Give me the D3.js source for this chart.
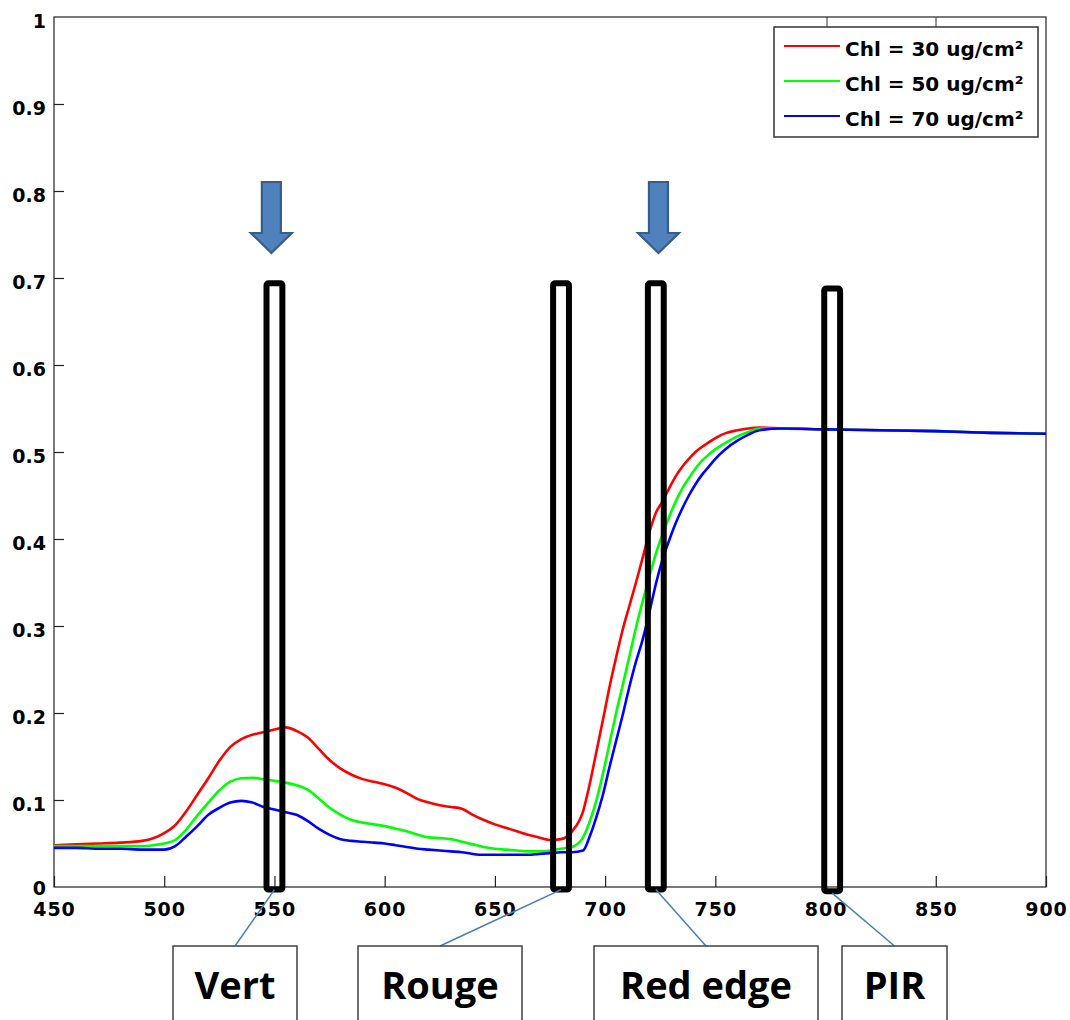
<!DOCTYPE html>
<html><head><meta charset="utf-8">
<script src="https://cdn.jsdelivr.net/npm/d3@7"></script>
<style>
html,body{margin:0;padding:0;background:#fff;}
svg{display:block;}
</style></head>
<body>
<svg id="c" width="1070" height="1020"></svg>
<script>
// ---------- DATA ----------
const wavelengths = [450,460,470,480,490,495,500,505,510,515,520,525,530,535,540,545,550,555,560,565,570,575,580,585,590,595,600,605,610,615,620,625,630,635,640,645,650,655,660,665,670,675,680,685,690,693,696,699,702,705,708,711,714,717,720,723,726,729,732,735,738,741,744,747,750,755,760,765,770,780,800,825,850,875,900];
const refl30 = [.048,.049,.050,.051,.053,.056,.062,.071,.087,.106,.125,.145,.161,.170,.175,.178,.181,.1835,.1795,.172,.159,.146,.136,.129,.124,.121,.118,.114,.108,.101,.097,.094,.092,.090,.083,.077,.072,.068,.064,.060,.057,.054,.055,.064,.087,.118,.155,.192,.230,.264,.296,.323,.350,.378,.407,.430,.443,.458,.472,.483,.492,.500,.506,.511,.516,.522,.525,.527,.528,.527,.526,.525,.524,.522,.521];
const refl50 = [.047,.047,.047,.047,.047,.048,.050,.054,.066,.082,.097,.111,.121,.125,.1255,.124,.122,.120,.117,.112,.102,.091,.083,.077,.074,.072,.070,.067,.064,.060,.057,.0562,.055,.052,.049,.046,.044,.043,.042,.041,.041,.042,.044,.046,.057,.075,.099,.130,.165,.200,.232,.265,.298,.328,.356,.383,.405,.425,.443,.458,.470,.481,.490,.497,.503,.511,.518,.523,.527,.527,.526,.525,.524,.522,.521];
const refl70 = [.045,.045,.044,.044,.043,.043,.043,.047,.058,.070,.083,.091,.097,.099,.097,.092,.089,.086,.083,.076,.067,.060,.055,.053,.052,.051,.050,.048,.046,.044,.043,.042,.041,.040,.038,.037,.037,.037,.037,.037,.038,.039,.040,.040,.042,.058,.080,.106,.138,.168,.198,.230,.259,.284,.315,.348,.376,.398,.418,.435,.450,.463,.474,.483,.492,.504,.513,.520,.525,.527,.526,.525,.524,.522,.521];
const seriesNames = ["Chl = 30 ug/cm\u00B2","Chl = 50 ug/cm\u00B2","Chl = 70 ug/cm\u00B2"];
const seriesColors = ["#ff0000","#00ff00","#0000ff"];
const xTicks = [450,500,550,600,650,700,750,800,850,900];
const yTicks = [0,0.1,0.2,0.3,0.4,0.5,0.6,0.7,0.8,0.9,1];
const yTickLabels = ["0","0.1","0.2","0.3","0.4","0.5","0.6","0.7","0.8","0.9","1"];
const bandNames = ["Vert","Rouge","Red edge","PIR"];
const bandCenters = [550,680,723,803];
const bandTops = [0.694,0.694,0.694,0.688];
const bandWidthNm = 7.2;
const arrowWavelengths = [548.6,724.2];

// ---------- LAYOUT ----------
const svg = d3.select("#c");
const L = 54, R = 1046, T = 17, B = 887;
const x = d3.scaleLinear().domain([450,900]).range([L,R]);
const y = d3.scaleLinear().domain([0,1]).range([B,T]);
const tickFont = "'DejaVu Sans', sans-serif";

// frame
svg.append("rect").attr("x",L).attr("y",T).attr("width",R-L).attr("height",B-T)
  .attr("fill","none").attr("stroke","#222").attr("stroke-width",1.2);

// axes (ticks inward)
const xAxis = d3.axisBottom(x).tickValues(xTicks).tickSizeInner(-11).tickSizeOuter(0).tickPadding(16).tickFormat(d3.format("d"));
const gx = svg.append("g").attr("transform",`translate(0,${B})`).call(xAxis);
gx.select(".domain").remove();
gx.selectAll(".tick line").attr("stroke","#222").attr("stroke-width",1.2);
gx.selectAll(".tick text").attr("font-family",tickFont).attr("font-weight","bold").attr("font-size",19)
  .attr("letter-spacing","1px").attr("fill","#000").attr("y",29).attr("dy",0);

const yAxis = d3.axisLeft(y).tickValues(yTicks).tickSizeInner(-10).tickSizeOuter(0).tickPadding(8)
  .tickFormat((d,i)=>yTickLabels[i]);
const gy = svg.append("g").attr("transform",`translate(${L},0)`).call(yAxis);
gy.select(".domain").remove();
gy.selectAll(".tick line").attr("stroke","#222").attr("stroke-width",1.2)
  .attr("display",d=>(d===0||d===1)?"none":null);
gy.selectAll(".tick text").attr("font-family",tickFont).attr("font-weight","bold").attr("font-size",19)
  .attr("fill","#000").attr("x",-8).attr("dy",0).attr("y",d=>d===0?7:10);

// curves
const allRefl = [refl30,refl50,refl70];
const line = d3.line().x((d,i)=>x(wavelengths[i])).y(d=>y(d)).curve(d3.curveMonotoneX);
allRefl.forEach((vals,k)=>{
  svg.append("path").datum(vals).attr("d",line).attr("fill","none")
    .attr("stroke",seriesColors[k]).attr("stroke-width",2.6);
});

// black bands
bandNames.forEach((n,i)=>{
  const x0 = x(bandCenters[i]-bandWidthNm/2), x1 = x(bandCenters[i]+bandWidthNm/2);
  svg.append("rect").attr("x",x0).attr("y",y(bandTops[i])).attr("width",x1-x0)
    .attr("height",y(-0.003*(i===3?1.6:1)) - y(bandTops[i]))
    .attr("fill","none").attr("stroke","#000").attr("stroke-width",6)
    .attr("rx",2).attr("stroke-linejoin","round");
});

// arrows
arrowWavelengths.forEach(w=>{
  const cx = x(w), top = 182, hs = 233, tip = 253, sw = 9.5, hw = 20.5;
  const pts = [[cx-sw,top],[cx+sw,top],[cx+sw,hs],[cx+hw,hs],[cx,tip],[cx-hw,hs],[cx-sw,hs]];
  svg.append("path").attr("d","M"+pts.map(p=>p.join(",")).join("L")+"Z")
    .attr("fill","#4f81bd").attr("stroke","#385d8a").attr("stroke-width",2.2).attr("stroke-linejoin","miter");
});

// legend
const lg = svg.append("g");
lg.append("line").attr("x1",827).attr("x2",827).attr("y1",T).attr("y2",27).attr("stroke","#333").attr("stroke-width",1);
lg.append("line").attr("x1",936).attr("x2",936).attr("y1",T).attr("y2",27).attr("stroke","#333").attr("stroke-width",1);
lg.append("rect").attr("x",774).attr("y",27).attr("width",264).attr("height",110)
  .attr("fill","#fff").attr("stroke","#333").attr("stroke-width",1.5);
seriesNames.forEach((n,k)=>{
  const yy = 46 + k*35;
  lg.append("line").attr("x1",784).attr("x2",840).attr("y1",yy).attr("y2",yy)
    .attr("stroke",seriesColors[k]).attr("stroke-width",2.2);
  lg.append("text").attr("x",845).attr("y",yy+10).text(n)
    .attr("font-family",tickFont).attr("font-weight","bold").attr("font-size",20).attr("fill","#000");
});

// bottom annotation labels
const labelBoxes = [[173,297],[358,522],[594,818],[842,947]];
const boxTop = 946;
bandNames.forEach((n,i)=>{
  const [bx0,bx1] = labelBoxes[i];
  const cx = (bx0+bx1)/2;
  const bandBottom = y(-0.003*(i===3?1.6:1)) + (i===3?2:0);
  svg.append("line").attr("x1",x(bandCenters[i])).attr("y1",bandBottom)
    .attr("x2",cx).attr("y2",boxTop).attr("stroke","#4a7ebb").attr("stroke-width",1.5);
  svg.append("rect").attr("x",bx0).attr("y",boxTop).attr("width",bx1-bx0).attr("height",100)
    .attr("fill","#fff").attr("stroke","#404040").attr("stroke-width",1.5);
  svg.append("text").attr("x",cx).attr("y",999).attr("text-anchor","middle").text(n)
    .attr("font-family","'Open Sans', sans-serif").attr("font-weight","bold").attr("font-size",38).attr("fill","#000");
});
</script>
</body></html>
